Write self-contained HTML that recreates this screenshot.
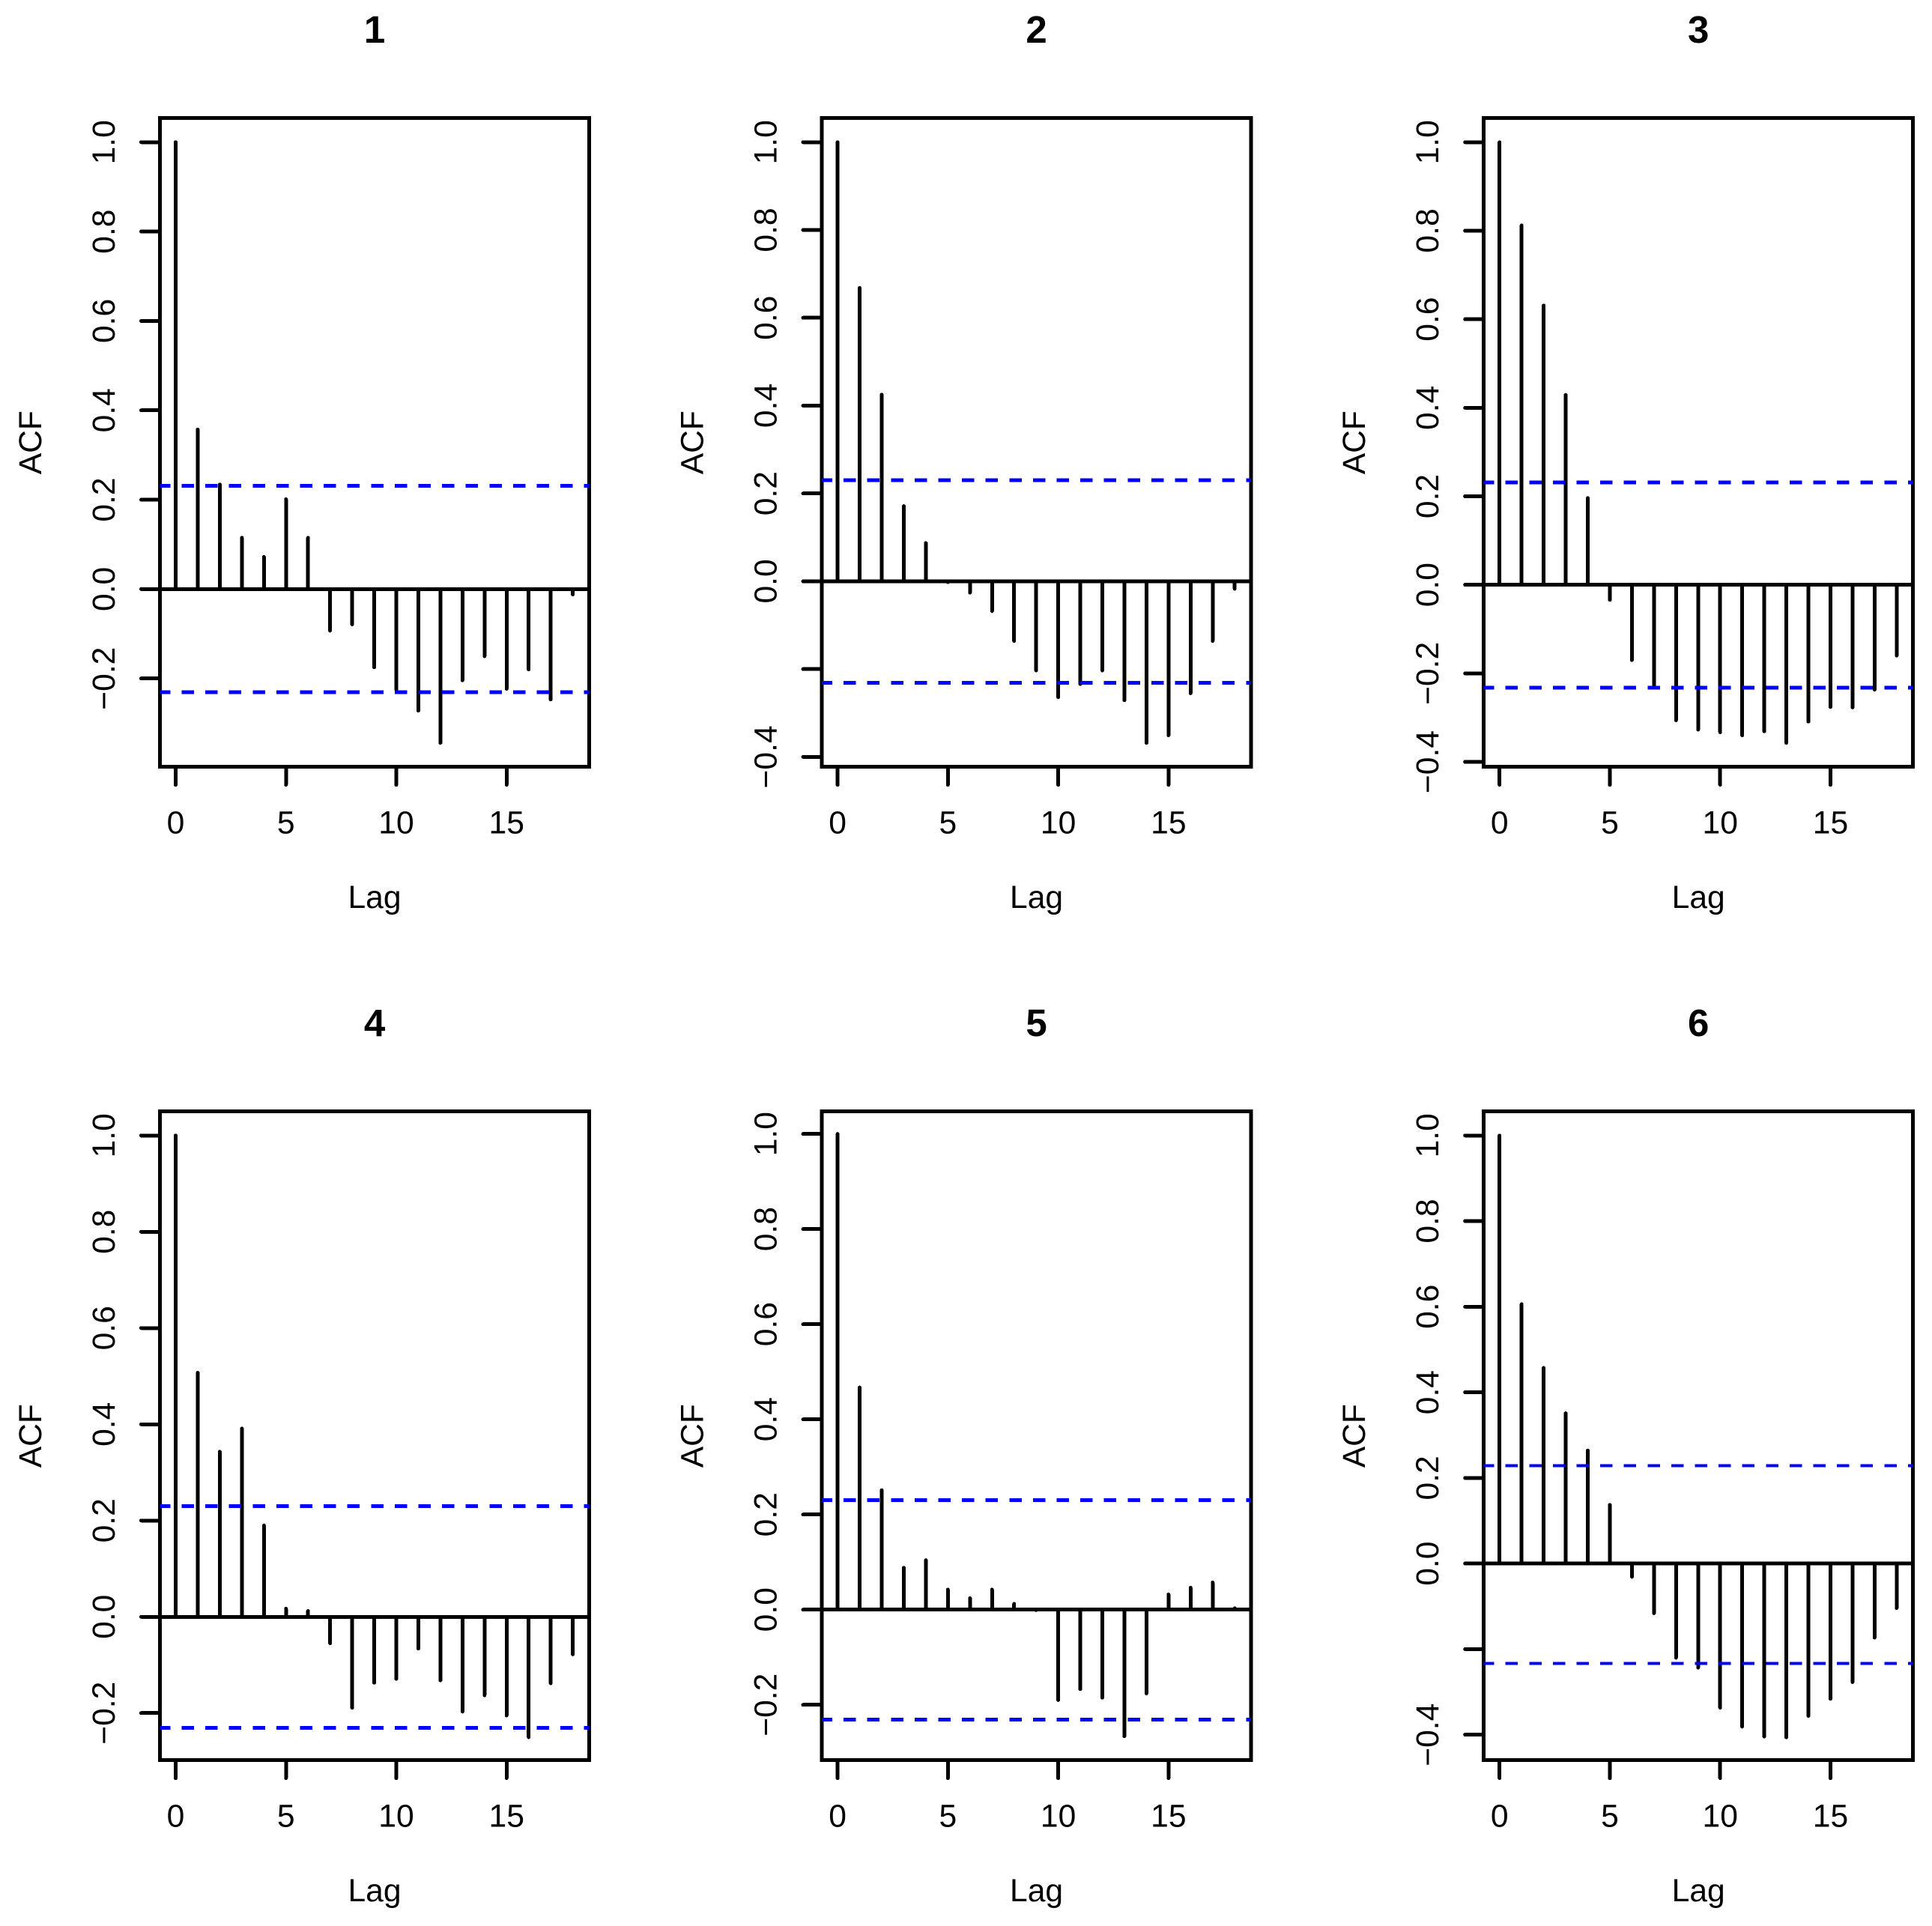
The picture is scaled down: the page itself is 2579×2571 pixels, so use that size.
<!DOCTYPE html>
<html lang="en">
<head>
<meta charset="utf-8">
<title>ACF panels</title>
<style>
  html, body { margin: 0; padding: 0; background: #fff; }
  svg { display: block; }
  text { font-family: "Liberation Sans", Arial, sans-serif; fill: #000; }
  .t { font-size: 42.6px; }
  .title { font-size: 51px; font-weight: bold; }
  line, rect { shape-rendering: crispEdges; }
</style>
</head>
<body>
<svg id="chart" width="2579" height="2571" viewBox="0 0 2579 2571" xmlns="http://www.w3.org/2000/svg"></svg>
<script>
// ---- Data ----
const panelTitles = ["1", "2", "3", "4", "5", "6"];
const lags = [0, 1, 2, 3, 4, 5, 6, 7, 8, 9, 10, 11, 12, 13, 14, 15, 16, 17, 18];
const xTickValues = [0, 5, 10, 15];
const xTickLabels = ["0", "5", "10", "15"];

const acf1 = [1, 0.357, 0.234, 0.115, 0.072, 0.201, 0.115, -0.093, -0.079, -0.175, -0.225, -0.272, -0.344, -0.204, -0.15, -0.223, -0.18, -0.247, -0.012];
const acf2 = [1, 0.668, 0.425, 0.171, 0.087, -0.002, -0.026, -0.068, -0.136, -0.203, -0.264, -0.234, -0.203, -0.271, -0.368, -0.351, -0.255, -0.136, -0.017];
const acf3 = [1, 0.812, 0.631, 0.429, 0.196, -0.034, -0.17, -0.229, -0.306, -0.327, -0.333, -0.34, -0.331, -0.357, -0.309, -0.276, -0.277, -0.237, -0.16];
const acf4 = [1, 0.507, 0.343, 0.391, 0.19, 0.017, 0.012, -0.055, -0.189, -0.137, -0.129, -0.066, -0.132, -0.197, -0.163, -0.205, -0.25, -0.138, -0.078];
const acf5 = [1, 0.467, 0.251, 0.088, 0.104, 0.042, 0.024, 0.042, 0.012, -0.001, -0.19, -0.167, -0.185, -0.266, -0.176, 0.032, 0.046, 0.057, 0.003];
const acf6 = [1, 0.606, 0.457, 0.351, 0.264, 0.137, -0.031, -0.116, -0.22, -0.243, -0.337, -0.381, -0.404, -0.406, -0.356, -0.316, -0.277, -0.173, -0.104];
const acfSeries = [acf1, acf2, acf3, acf4, acf5, acf6];

const ciUpper = [0.2315, 0.23, 0.231, 0.23, 0.23, 0.229];
const ciLower = [-0.2305, -0.231, -0.232, -0.231, -0.231, -0.233];

// Value-axis limits of every panel
const yDomainLow = [-0.3978, -0.4227, -0.4113, -0.298, -0.3165, -0.4595];
const yDomainHigh = [1.0538, 1.0547, 1.0543, 1.05, 1.0472, 1.0561];

const yTicks1 = [-0.2, 0, 0.2, 0.4, 0.6, 0.8, 1];
const yLabels1 = ["\u22120.2", "0.0", "0.2", "0.4", "0.6", "0.8", "1.0"];
const yTicks2 = [-0.4, -0.2, 0, 0.2, 0.4, 0.6, 0.8, 1];
const yLabels2 = ["\u22120.4", "", "0.0", "0.2", "0.4", "0.6", "0.8", "1.0"];
const yTicks3 = [-0.4, -0.2, 0, 0.2, 0.4, 0.6, 0.8, 1];
const yLabels3 = ["\u22120.4", "\u22120.2", "0.0", "0.2", "0.4", "0.6", "0.8", "1.0"];
const yTicks4 = [-0.2, 0, 0.2, 0.4, 0.6, 0.8, 1];
const yLabels4 = ["\u22120.2", "0.0", "0.2", "0.4", "0.6", "0.8", "1.0"];
const yTicks5 = [-0.2, 0, 0.2, 0.4, 0.6, 0.8, 1];
const yLabels5 = ["\u22120.2", "0.0", "0.2", "0.4", "0.6", "0.8", "1.0"];
const yTicks6 = [-0.4, -0.2, 0, 0.2, 0.4, 0.6, 0.8, 1];
const yLabels6 = ["\u22120.4", "", "0.0", "0.2", "0.4", "0.6", "0.8", "1.0"];
const yTickSets = [yTicks1, yTicks2, yTicks3, yTicks4, yTicks5, yTicks6];
const yLabelSets = [yLabels1, yLabels2, yLabels3, yLabels4, yLabels5, yLabels6];

// ---- Drawing ----
const NS = "http://www.w3.org/2000/svg";
const svg = document.getElementById("chart");

function makeLine(parent, x1, y1, x2, y2, color, width, cap) {
  const el = document.createElementNS(NS, "line");
  el.setAttribute("x1", x1);
  el.setAttribute("y1", y1);
  el.setAttribute("x2", x2);
  el.setAttribute("y2", y2);
  el.setAttribute("stroke", color);
  el.setAttribute("stroke-width", width);
  el.setAttribute("stroke-linecap", cap);
  parent.appendChild(el);
  return el;
}

function makeText(parent, str, x, y, cls, anchor, rotate) {
  const el = document.createElementNS(NS, "text");
  el.setAttribute("x", x);
  el.setAttribute("y", y);
  el.setAttribute("class", cls);
  el.setAttribute("text-anchor", anchor);
  if (rotate) el.setAttribute("transform", "rotate(-90 " + x + " " + y + ")");
  el.textContent = str;
  parent.appendChild(el);
  return el;
}

const colStep = 883.6;
const rowStep = 1326;
const boxLeft = 213.5, boxRight = 786.5, boxTop = 157.7, boxBottom = 1023.7;
const lagOrigin = 234.5, lagStep = 29.45;

acfSeries.forEach(function (series, p) {
  const dx = (p % 3) * colStep;
  const dy = Math.floor(p / 3) * rowStep;
  const xScale = function (v) { return dx + lagOrigin + v * lagStep; };
  const yLow = yDomainLow[p], yHigh = yDomainHigh[p];
  const yScale = function (v) {
    return dy + boxBottom - (v - yLow) / (yHigh - yLow) * (boxBottom - boxTop);
  };
  const left = dx + boxLeft, right = dx + boxRight;
  const top = dy + boxTop, bottom = dy + boxBottom;

  const g = document.createElementNS(NS, "g");
  
  
  svg.appendChild(g);

  const title = makeText(g, panelTitles[p], (left + right) / 2, dy + 57, "title", "middle", false);
  
  

  const frame = document.createElementNS(NS, "rect");
  frame.setAttribute("x", left);
  frame.setAttribute("y", top);
  frame.setAttribute("width", right - left);
  frame.setAttribute("height", bottom - top);
  frame.setAttribute("fill", "none");
  frame.setAttribute("stroke", "#000");
  frame.setAttribute("stroke-width", 5);
  
  
  g.appendChild(frame);

  // y axis
  const yTicks = yTickSets[p];
  const yLabels = yLabelSets[p];
  yTicks.forEach(function (v, i) {
    const tick = makeLine(g, left, yScale(v), left - 25, yScale(v), "#000", 5, "round");
    
    
    if (yLabels[i]) {
      const label = makeText(g, yLabels[i], dx + 153, yScale(v), "t", "middle", true);
      
      
    }
  });

  // x axis
  xTickValues.forEach(function (v, i) {
    const tick = makeLine(g, xScale(v), bottom, xScale(v), bottom + 24, "#000", 5, "round");
    
    
    const label = makeText(g, xTickLabels[i], xScale(v), dy + 1112.7, "t", "middle", false);
    
    
  });

  // axis titles
  const xTitle = makeText(g, "Lag", (left + right) / 2, dy + 1212, "t", "middle", false);
  
  
  const yTitle = makeText(g, "ACF", dx + 54.8, dy + 590.7, "t", "middle", true);
  
  

  // bars
  series.forEach(function (v, i) {
    const bar = makeLine(g, xScale(lags[i]), yScale(0), xScale(lags[i]), yScale(v), "#000", 5, "round");
    
    
  });

  // zero line
  const zero = makeLine(g, left, yScale(0), right, yScale(0), "#000", 5, "butt");
  
  

  // confidence bounds
  const upper = makeLine(g, left, yScale(ciUpper[p]), right, yScale(ciUpper[p]), "#0000ff", p === 5 ? 4 : 5, "butt");
  upper.setAttribute("stroke-dasharray", "16.5 15.1");
  upper.setAttribute("stroke-dashoffset", "2.6");
  
  
  const lower = makeLine(g, left, yScale(ciLower[p]), right, yScale(ciLower[p]), "#0000ff", p === 5 ? 4 : 5, "butt");
  lower.setAttribute("stroke-dasharray", "16.5 15.1");
  lower.setAttribute("stroke-dashoffset", "2.6");
  
  
});
</script>
</body>
</html>
